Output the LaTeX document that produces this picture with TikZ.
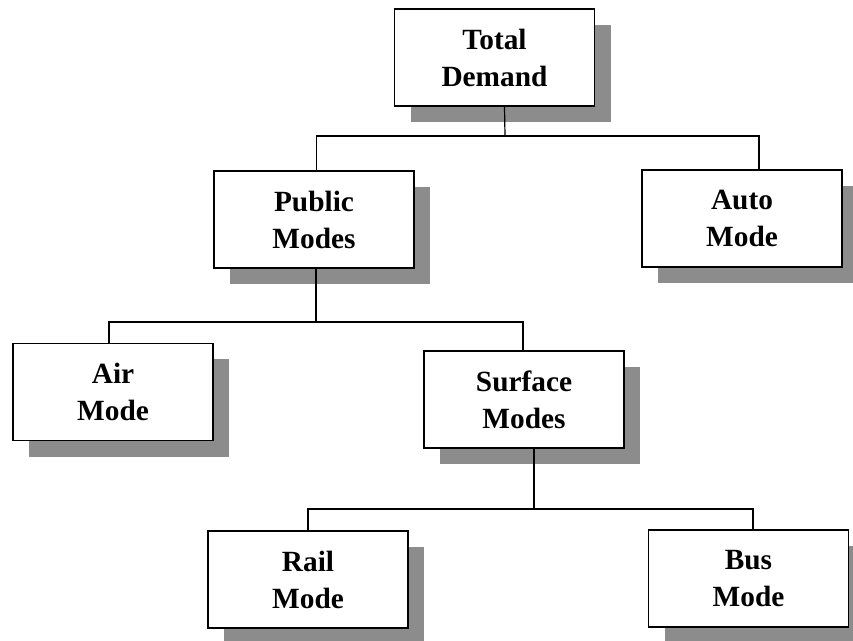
\documentclass[tikz,border=0pt]{standalone}
\usepackage{fontspec}
\setmainfont{Liberation Serif}
\usetikzlibrary{shadows}

\begin{document}
\begin{tikzpicture}[x=0.75pt,y=-0.75pt,
  box/.style = {draw, line width=0.9pt, fill=white, minimum width=150pt, minimum height=72.75pt, align=center,
    font=\bfseries\fontsize{22}{27.75}\selectfont,
    drop shadow={shadow xshift=12pt, shadow yshift=-12pt, fill=black!45, opacity=1}},
  link/.style = {draw, line width=0.9pt}]
\useasboundingbox (0,0) rectangle (853,641);
\node[box] (total) at (494.5,57.5) {Total\\Demand};
\node[box] (public) at (314,219.5) {Public\\Modes};
\node[box] (auto) at (742,218.5) {Auto\\Mode};
\node[box] (air) at (113,392) {Air\\Mode};
\node[box] (surface) at (524,399.5) {Surface\\Modes};
\node[box] (rail) at (308,579.5) {Rail\\Mode};
\node[box] (bus) at (748.5,578.5) {Bus\\Mode};
\coordinate (r1) at (505,136);
\coordinate (r2) at (316,322);
\coordinate (r3) at (534,509);
\draw[link] ([xshift=7.5pt]total.south) -- (r1);
\draw[link] ([xshift=2pt]public.north) |- (r1) -| ([xshift=12.75pt]auto.north);
\draw[link] ([xshift=1.5pt]public.south) -- (r2);
\draw[link] ([xshift=-3pt]air.north) |- (r2) -| ([xshift=-0.75pt]surface.north);
\draw[link] ([xshift=7.5pt]surface.south) -- (r3);
\draw[link] (rail.north) |- (r3) -| ([xshift=3.4pt]bus.north);
\end{tikzpicture}
\end{document}
